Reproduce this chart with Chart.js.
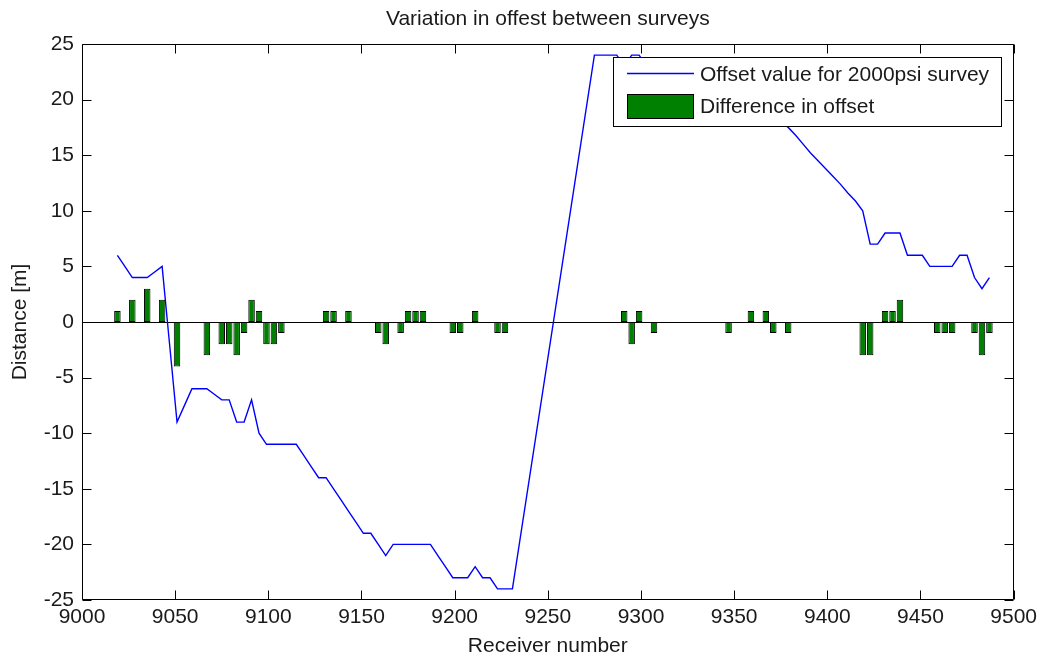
<!DOCTYPE html>
<html>
<head>
<meta charset="utf-8">
<script src="https://cdn.jsdelivr.net/npm/chart.js@4/dist/chart.umd.min.js"></script>
<style>
  html, body { margin: 0; padding: 0; background: #ffffff; }
  canvas { display: block; }
</style>
</head>
<body>
<canvas id="chart" width="1042" height="661"></canvas>
<script>
// Receiver numbers (every 4th receiver)
const receivers = [
  9019, 9023, 9027, 9031, 9035, 9039, 9043, 9047, 9051, 9055,
  9059, 9063, 9067, 9071, 9075, 9079, 9083, 9087, 9091, 9095,
  9099, 9103, 9107, 9111, 9115, 9119, 9123, 9127, 9131, 9135,
  9139, 9143, 9147, 9151, 9155, 9159, 9163, 9167, 9171, 9175,
  9179, 9183, 9187, 9191, 9195, 9199, 9203, 9207, 9211, 9215,
  9219, 9223, 9227, 9231, 9235, 9239, 9243, 9247, 9251, 9255,
  9259, 9263, 9267, 9271, 9275, 9279, 9283, 9287, 9291, 9295,
  9299, 9303, 9307, 9311, 9315, 9319, 9323, 9327, 9331, 9335,
  9339, 9343, 9347, 9351, 9355, 9359, 9363, 9367, 9371, 9375,
  9379, 9383, 9387, 9391, 9395, 9399, 9403, 9407, 9411, 9415,
  9419, 9423, 9427, 9431, 9435, 9439, 9443, 9447, 9451, 9455,
  9459, 9463, 9467, 9471, 9475, 9479, 9483, 9487
];

// Offset of each receiver in the 2000psi survey [m]; null = no reading
const offset2000psi = [
   6,   5,   4,   4,   4, 4.5,   5,  -2,  -9, -7.5,
  -6,  -6,  -6, -6.5, -7,  -7,  -9,  -9,  -7, -10,
 -11, -11, -11, -11, -11, -12, -13, -14, -14, -15,
 -16, -17, -18, -19, -19, -20, -21, -20, -20, -20,
 -20, -20, -20, -21, -22, -23, -23, -23, -22, -23,
 -23, -24, -24, -24, null, null, null, null, null, null,
 null, null, null, null,  24,  24,  24,  24,  23,  24,
  24,  23,  23,  23,  22,  22,  22,  21,  21,  21,
  20,  20,  20,  19,  19,  19, 18.5, 18.5, 18, 18,
 17.5, 16.8, 16, 15.2, 14.5, 13.8, 13.1, 12.4, 11.6, 10.9,
  10,   7,   7,   8,   8,   8,   6,   6,   6,   5,
   5,   5,   5,   6,   6,   4,   3,   4
];

// Change in offset between the two surveys [m]
const offsetDifference = [
   1,  0,  2,  0,  3,  0,  2,  0, -4,  0,
   0,  0, -3,  0, -2, -2, -3, -1,  2,  1,
  -2, -2, -1,  0,  0,  0,  0,  0,  1,  1,
   0,  1,  0,  0,  0, -1, -2,  0, -1,  1,
   1,  1,  0,  0,  0, -1, -1,  0,  1,  0,
   0, -1, -1,  0,  0,  0,  0,  0,  0,  0,
   0,  0,  0,  0,  0,  0,  0,  0,  1, -2,
   1,  0, -1,  0,  0,  0,  0,  0,  0,  0,
   0,  0, -1,  0,  0,  1,  0,  1, -1,  0,
  -1,  0,  0,  0,  0,  0,  0,  0,  0,  0,
  -3, -3,  0,  1,  1,  2,  0,  0,  0,  0,
  -1, -1, -1,  0,  0, -1, -3, -1
];

const xTickValues = [9000, 9050, 9100, 9150, 9200, 9250, 9300, 9350, 9400, 9450, 9500];
const yTickValues = [-25, -20, -15, -10, -5, 0, 5, 10, 15, 20, 25];

const FONT = "'Liberation Sans', Arial, sans-serif";
const FONT_SIZE = 21;
const TEXT_COLOR = '#1a1a1a';

// Axes box with inward ticks on all four sides, zero baseline, title and boxed legend
const axesDecor = {
  id: 'axesDecor',
  beforeDatasetsDraw(chart) {
    const { ctx, chartArea: a, scales: { y } } = chart;
    const y0 = Math.round(y.getPixelForValue(0)) + 0.5;
    ctx.save();
    ctx.strokeStyle = '#000';
    ctx.lineWidth = 1;
    ctx.beginPath();
    ctx.moveTo(a.left, y0);
    ctx.lineTo(a.right, y0);
    ctx.stroke();
    ctx.restore();
  },
  afterDatasetsDraw(chart) {
    const { ctx, chartArea: a, scales: { x, y } } = chart;
    const L = Math.round(a.left) + 0.5, R = Math.round(a.right) - 0.5;
    const T = Math.round(a.top) + 0.5, B = Math.round(a.bottom) - 0.5;
    const tick = 9;
    ctx.save();
    ctx.strokeStyle = '#000';
    ctx.lineWidth = 1;
    ctx.beginPath();
    ctx.rect(L, T, R - L, B - T);
    xTickValues.forEach(v => {
      const px = Math.round(x.getPixelForValue(v)) + 0.5;
      ctx.moveTo(px, B); ctx.lineTo(px, B - tick);
      ctx.moveTo(px, T); ctx.lineTo(px, T + tick);
    });
    yTickValues.forEach(v => {
      const py = Math.round(y.getPixelForValue(v)) + 0.5;
      ctx.moveTo(L, py); ctx.lineTo(L + tick, py);
      ctx.moveTo(R, py); ctx.lineTo(R - tick, py);
    });
    ctx.stroke();

    // legend
    const [lineDs, barDs] = chart.data.datasets;
    const bx = 613.5, by = 57.5, bw = 388, bh = 69;
    ctx.fillStyle = '#fff';
    ctx.fillRect(bx, by, bw, bh);
    ctx.strokeRect(bx, by, bw, bh);
    ctx.strokeStyle = lineDs.borderColor;
    ctx.lineWidth = lineDs.borderWidth;
    ctx.beginPath();
    ctx.moveTo(627, 73.5);
    ctx.lineTo(694, 73.5);
    ctx.stroke();
    ctx.fillStyle = barDs.backgroundColor;
    ctx.fillRect(627.5, 94.5, 66, 24);
    ctx.strokeStyle = '#000';
    ctx.lineWidth = 1;
    ctx.strokeRect(627.5, 94.5, 66, 24);
    ctx.fillStyle = TEXT_COLOR;
    ctx.font = FONT_SIZE + 'px ' + FONT;
    ctx.textAlign = 'left';
    ctx.textBaseline = 'middle';
    ctx.fillText(lineDs.label, 700, 75.5);
    ctx.fillText(barDs.label, 700, 107.5);
    ctx.restore();
  },
  afterDraw(chart) {
    const { ctx, chartArea: a } = chart;
    ctx.save();
    ctx.fillStyle = TEXT_COLOR;
    ctx.font = FONT_SIZE + 'px ' + FONT;
    ctx.textAlign = 'center';
    ctx.textBaseline = 'middle';
    ctx.fillText('Variation in offest between surveys', (a.left + a.right) / 2, 19);
    ctx.restore();
  }
};

new Chart(document.getElementById('chart'), {
  type: 'bar',
  data: {
    datasets: [
      {
        type: 'line',
        label: 'Offset value for 2000psi survey',
        data: receivers.map((r, i) => ({ x: r, y: offset2000psi[i] })),
        borderColor: '#0000ff',
        borderWidth: 1.4,
        pointRadius: 0,
        tension: 0,
        spanGaps: true,
        fill: false,
        order: 1
      },
      {
        type: 'bar',
        label: 'Difference in offset',
        data: receivers.map((r, i) => ({ x: r, y: offsetDifference[i] })),
        backgroundColor: '#008000',
        borderColor: '#000000',
        borderWidth: 1,
        borderSkipped: false,
        inflateAmount: 0,
        barThickness: 6.5,
        order: 0
      }
    ]
  },
  options: {
    responsive: false,
    animation: false,
    devicePixelRatio: 1,
    layout: { padding: { top: 44, right: 27, left: 0, bottom: 0 } },
    plugins: {
      legend: { display: false },
      title: { display: false },
      tooltip: { enabled: false }
    },
    scales: {
      x: {
        type: 'linear',
        min: 9000,
        max: 9500,
        offset: false,
        grid: { display: false, drawTicks: false },
        border: { display: false },
        afterBuildTicks: s => { s.ticks = xTickValues.map(v => ({ value: v })); },
        afterFit: s => { s.height = 61; },
        ticks: {
          autoSkip: false,
          maxRotation: 0,
          padding: 5,
          color: TEXT_COLOR,
          font: { family: FONT, size: FONT_SIZE },
          callback: v => String(v)
        },
        title: {
          display: true,
          text: 'Receiver number',
          color: TEXT_COLOR,
          font: { family: FONT, size: FONT_SIZE },
          padding: { top: 0, bottom: 2 }
        }
      },
      y: {
        min: -25,
        max: 25,
        grid: { display: false, drawTicks: false },
        border: { display: false },
        afterBuildTicks: s => { s.ticks = yTickValues.map(v => ({ value: v })); },
        afterFit: s => { s.width = 82; },
        ticks: {
          padding: 8,
          color: TEXT_COLOR,
          font: { family: FONT, size: FONT_SIZE },
          callback: v => String(v)
        },
        title: {
          display: true,
          text: 'Distance [m]',
          color: TEXT_COLOR,
          font: { family: FONT, size: FONT_SIZE },
          padding: { top: 8, bottom: 0 }
        }
      }
    }
  },
  plugins: [axesDecor]
});
</script>
</body>
</html>
